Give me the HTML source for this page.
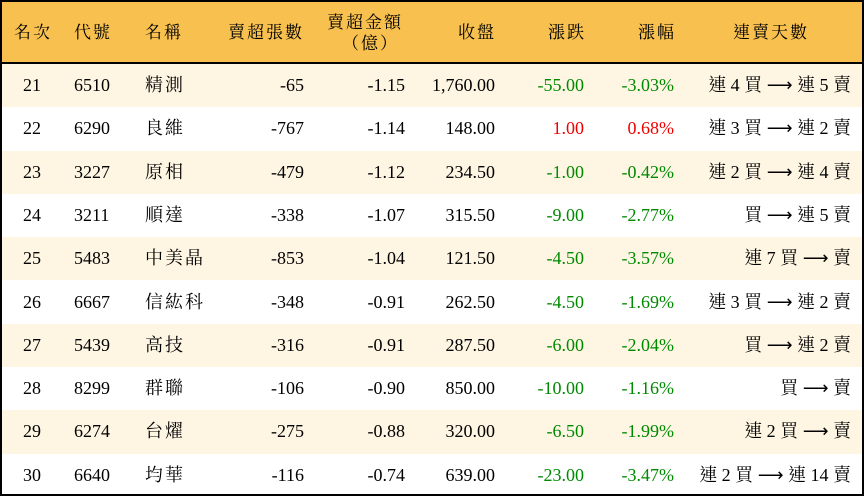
<!DOCTYPE html>
<html><head><meta charset="utf-8"><style>
*{margin:0;padding:0;box-sizing:border-box}
body{width:864px;height:496px;overflow:hidden;background:#fff;font-family:"Liberation Serif","Noto Serif CJK TC","Noto Serif CJK SC",serif;font-size:18px;color:#000}
#w{position:absolute;left:0;top:0;width:864px;height:496px;border:2px solid #000}
.hd{position:absolute;left:0;top:0;width:860px;height:62px;background:#f8c04e;border-bottom:2px solid #000}
.r{position:absolute;left:0;width:860px;height:43.3px}
.a{background:#fef6e3}
.c{position:absolute;top:0;line-height:43px;white-space:nowrap}
.h{position:absolute;white-space:nowrap;line-height:20px;letter-spacing:2px;font-size:17px}
.g{color:#008a00}.red{color:#f00000}
.ar{font-family:"DejaVu Sans",sans-serif;font-size:18px}
</style></head><body><div id="w">
<div class="hd">
<div class="h" style="left:12px;top:21px">名次</div>
<div class="h" style="left:72px;top:21px">代號</div>
<div class="h" style="left:143px;top:21px">名稱</div>
<div class="h" style="right:558px;top:21px">賣超張數</div>
<div class="h" style="left:325px;top:11px">賣超金額</div>
<div class="h" style="left:340px;top:32px">（億）</div>
<div class="h" style="right:366px;top:21px">收盤</div>
<div class="h" style="right:276px;top:21px">漲跌</div>
<div class="h" style="right:186px;top:21px">漲幅</div>
<div class="h" style="left:731px;top:21px">連賣天數</div>
</div>
<div id="rows"></div>
</div>
<script>
var d=[["21","6510","精測","-65","-1.15","1,760.00","-55.00","-3.03%","連 4 買","連 5 賣"],
["22","6290","良維","-767","-1.14","148.00","1.00","0.68%","連 3 買","連 2 賣"],
["23","3227","原相","-479","-1.12","234.50","-1.00","-0.42%","連 2 買","連 4 賣"],
["24","3211","順達","-338","-1.07","315.50","-9.00","-2.77%","買","連 5 賣"],
["25","5483","中美晶","-853","-1.04","121.50","-4.50","-3.57%","連 7 買","賣"],
["26","6667","信紘科","-348","-0.91","262.50","-4.50","-1.69%","連 3 買","連 2 賣"],
["27","5439","高技","-316","-0.91","287.50","-6.00","-2.04%","買","連 2 賣"],
["28","8299","群聯","-106","-0.90","850.00","-10.00","-1.16%","買","賣"],
["29","6274","台燿","-275","-0.88","320.00","-6.50","-1.99%","連 2 買","賣"],
["30","6640","均華","-116","-0.74","639.00","-23.00","-3.47%","連 2 買","連 14 賣"]];
var h="";
d.forEach(function(r,i){var cl=r[6][0]=="-"?"g":"red";
h+='<div class="r'+(i%2==0?' a':'')+'" style="top:'+(62+i*43.3)+'px">'+
'<div class="c" style="left:21px">'+r[0]+'</div>'+
'<div class="c" style="left:72px">'+r[1]+'</div>'+
'<div class="c" style="left:143px;letter-spacing:2px">'+r[2]+'</div>'+
'<div class="c" style="right:558px">'+r[3]+'</div>'+
'<div class="c" style="right:457px">'+r[4]+'</div>'+
'<div class="c" style="right:367px">'+r[5]+'</div>'+
'<div class="c '+cl+'" style="right:278px">'+r[6]+'</div>'+
'<div class="c '+cl+'" style="right:188px">'+r[7]+'</div>'+
'<div class="c" style="right:11px">'+r[8]+' <span class="ar">⟶</span> '+r[9]+'</div></div>';});
document.getElementById("rows").innerHTML=h;
</script>
</body></html>
